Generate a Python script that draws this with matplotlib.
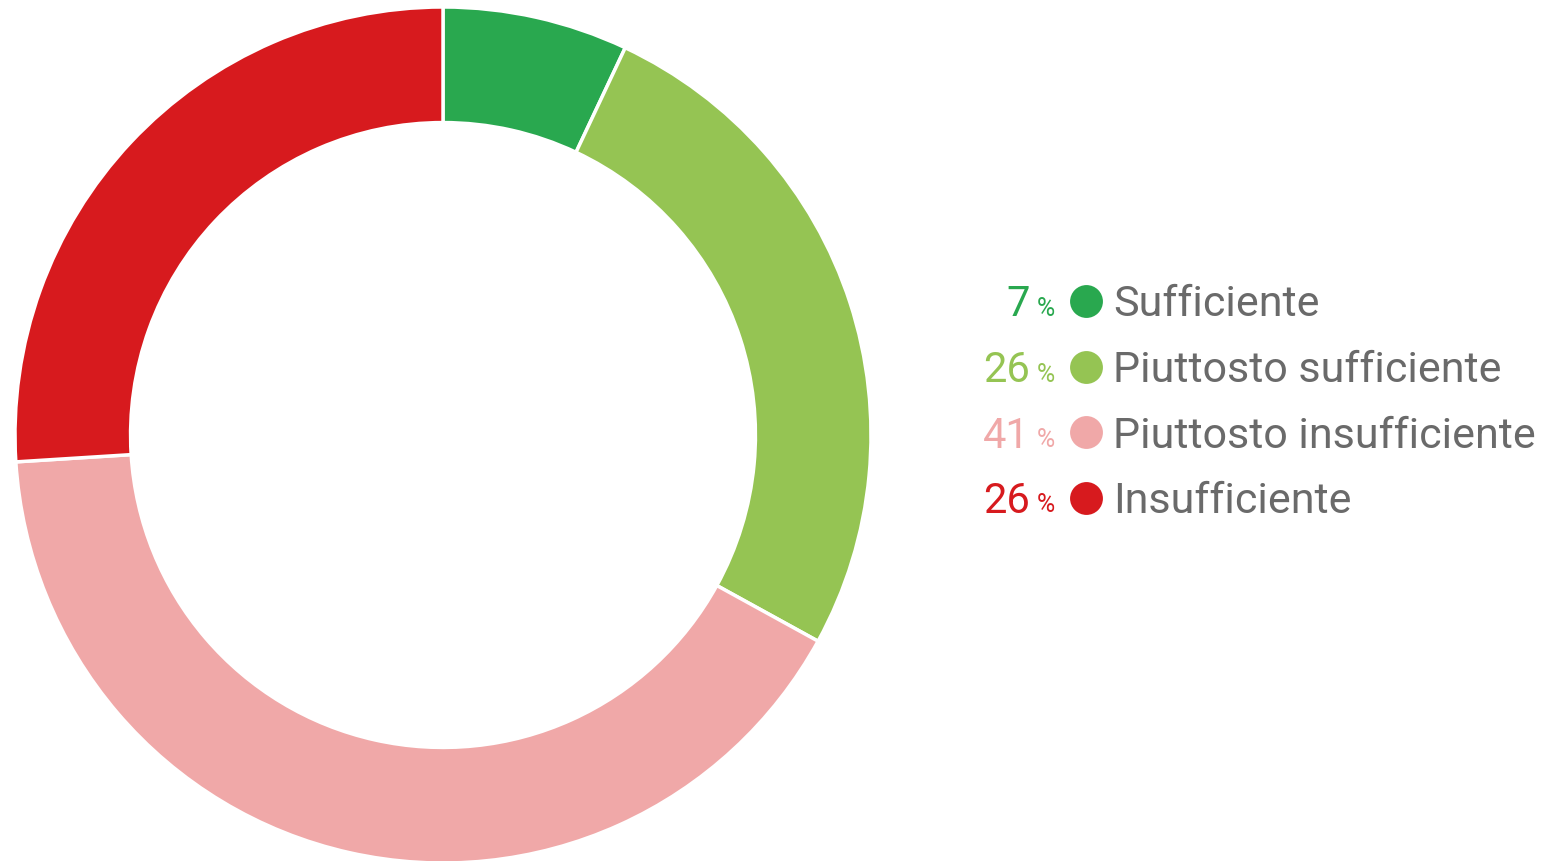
import matplotlib.pyplot as plt

# survey answers, clockwise from the top
labels = ["Sufficiente", "Piuttosto sufficiente", "Piuttosto insufficiente", "Insufficiente"]
values = [7, 26, 41, 26]
colors = ["#29a84f", "#95c453", "#f0a8a8", "#d71a1e"]

W, H = 1542, 861
fig = plt.figure(figsize=(W / 100, H / 100), dpi=100)

# donut: centre about (443, 435) px, outer radius 428 px
cx, cy, R = 443, 435, 428
ax = fig.add_axes([(cx - R) / W, (H - cy - R) / H, 2 * R / W, 2 * R / H])
ax.pie(values, colors=colors, startangle=90, counterclock=False, radius=1,
       wedgeprops=dict(width=0.27, edgecolor="white", linewidth=2.5))
ax.set_xlim(-1, 1)
ax.set_ylim(-1, 1)
ax.axis("off")

# legend drawn on an overlay axes in pixel units
lg = fig.add_axes([0, 0, 1, 1])
lg.set_xlim(0, W)
lg.set_ylim(H, 0)
lg.axis("off")
lg.patch.set_alpha(0)

y0, dy = 301, 65.5
for i in range(len(labels)):
    y = y0 + i * dy
    lg.text(1030, y + 4, str(values[i]), color=colors[i], fontsize=30,
            fontfamily="Roboto", ha="right", va="center")
    lg.text(1037, y + 8, "%", color=colors[i], fontsize=18,
            fontfamily="Roboto", ha="left", va="center")
    lg.scatter([1086], [y], s=560, color=colors[i], linewidths=0)
    lg.text(1113, y + 4, labels[i], color="#6a6a6a", fontsize=31,
            fontfamily="Roboto", ha="left", va="center")

fig.savefig("out.png", dpi=100)
